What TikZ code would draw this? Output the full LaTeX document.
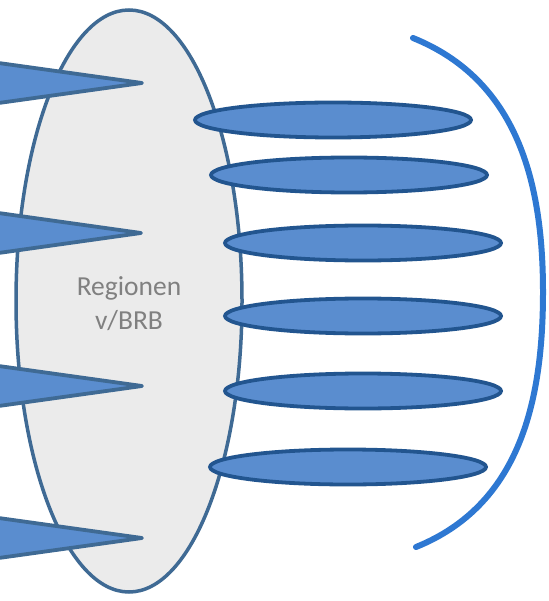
\documentclass[tikz,border=0pt]{standalone}
\usepackage{fontspec}
\setmainfont{Carlito}
\usepackage{tikz}
\usetikzlibrary{shapes.geometric}
\definecolor{rimblue}{HTML}{3F6A94}
\definecolor{padfill}{HTML}{5A8DCF}
\definecolor{padline}{HTML}{22558F}
\definecolor{arcblue}{HTML}{2E78D2}
\definecolor{regfill}{HTML}{EBEBEB}
\tikzstyle{region} = [ellipse, draw=rimblue, fill=regfill, line width=3.5pt,
    inner sep=0pt, minimum width=226pt, minimum height=582pt,
    text=black!50, align=center, font=\fontsize{27.5}{34}\selectfont]
\tikzstyle{pad} = [ellipse, draw=padline, fill=padfill, line width=3.8pt,
    inner sep=0pt, minimum width=276pt, minimum height=35pt]
\tikzstyle{spike} = [draw=rimblue, fill=padfill, line width=3.8pt, line join=round]

\begin{document}
\begin{tikzpicture}[x=1pt, y=-1pt]
 \useasboundingbox (0,0) rectangle (548,601);
 \clip (0,0) rectangle (548,601);

 \node [region] (reg) at (129,301) {\\[-10pt]Regionen\\v/BRB};

 % spikes from the left
 \draw [spike] (-30,59) -- (142,83) -- (-30,107) -- cycle;
 \draw [spike] (-30,209) -- (141,233) -- (-30,257) -- cycle;
 \draw [spike] (-30,362) -- (142,386) -- (-30,410) -- cycle;
 \draw [spike] (-30,514) -- (142,538) -- (-30,562) -- cycle;

 % pads on the right
 \node [pad] (p1) at (333,120) {};
 \node [pad] (p2) at (349,175) {};
 \node [pad] (p3) at (363,243) {};
 \node [pad] (p4) at (363,316) {};
 \node [pad] (p5) at (363,391) {};
 \node [pad] (p6) at (348,467) {};

 \coordinate (atop) at (413,38);
 \coordinate (amid) at (543,292);
 \coordinate (abot) at (416,547);
 \draw [arcblue, line width=6pt, line cap=round]
   (atop) to[out=-22, in=90] (amid) to[out=-90, in=22] (abot);
\end{tikzpicture}
\end{document}
